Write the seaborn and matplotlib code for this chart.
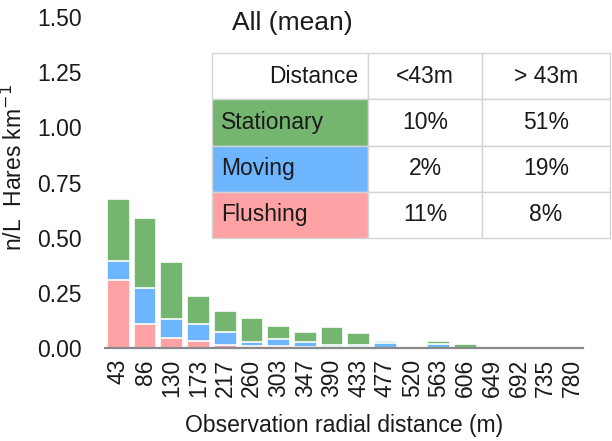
import matplotlib
matplotlib.use("Agg")
import matplotlib.pyplot as plt
import numpy as np
import pandas as pd
import seaborn as sns

# values (n/L, hares per km)
distances = ['43', '86', '130', '173', '217', '260', '303', '347', '390',
             '433', '477', '520', '563', '606', '649', '692', '735', '780']
flushing = [0.31, 0.11, 0.045, 0.03, 0.012, 0.008, 0.008, 0.004, 0.003,
            0.003, 0, 0, 0, 0, 0, 0, 0, 0]
moving = [0.085, 0.16, 0.085, 0.08, 0.062, 0.02, 0.032, 0.022, 0.012,
          0.012, 0.021, 0, 0.017, 0, 0, 0, 0, 0]
stationary = [0.28, 0.32, 0.26, 0.125, 0.094, 0.11, 0.06, 0.045, 0.082,
              0.055, 0.012, 0, 0.016, 0.018, 0, 0, 0, 0]

table_cols = ['Distance', '<43m', '> 43m']
table_rows = ['Stationary', 'Moving', 'Flushing']
pct_near = ['10%', '2%', '11%']
pct_far = ['51%', '19%', '8%']

GREEN = '#74b66f'
BLUE = '#6db5fe'
PINK = '#ffa2a6'
TXT = '#1a1a1a'

df = pd.DataFrame({'distance': distances, 'flushing': flushing,
                   'moving': moving, 'stationary': stationary})
df['fm'] = df['flushing'] + df['moving']
df['total'] = df['fm'] + df['stationary']

sns.set_theme(style='white')
plt.rcParams['font.family'] = ['Liberation Sans', 'DejaVu Sans']

fig = plt.figure(figsize=(6.12, 4.41), dpi=100)
ax = fig.add_axes([105 / 612, 1 - 348 / 441, 478 / 612, 331 / 441])

bar_kw = dict(width=0.85, edgecolor='white', linewidth=1.2, ax=ax)
sns.barplot(data=df, x='distance', y='total', color=GREEN, saturation=1, **bar_kw)
sns.barplot(data=df, x='distance', y='fm', color=BLUE, saturation=1, **bar_kw)
sns.barplot(data=df, x='distance', y='flushing', color=PINK, saturation=1, **bar_kw)

ax.set_ylim(0, 1.5)
ax.set_xlim(-0.5, 17.4)
ax.set_yticks(np.arange(0, 1.51, 0.25))
ax.set_yticklabels([f'{t:.2f}' for t in np.arange(0, 1.51, 0.25)])
ax.tick_params(axis='y', length=0, pad=17, labelsize=16.5, labelcolor=TXT)
ax.tick_params(axis='x', length=0, pad=8, labelsize=16.5, labelcolor=TXT,
               labelrotation=90)
for s in ['top', 'right', 'left']:
    ax.spines[s].set_visible(False)
ax.spines['bottom'].set_color('#8a8a8a')
ax.spines['bottom'].set_linewidth(1.6)

ax.set_xlabel('Observation radial distance (m)', fontsize=16.5, color=TXT,
              labelpad=12)
ax.set_ylabel('n/L  Hares km$^{-1}$', fontsize=16.5, color=TXT)
ax.yaxis.set_label_coords(-0.163, 0.545)

fig.text(232 / 612, 1 - 23 / 441, 'All (mean)', fontsize=19, color=TXT,
         ha='left', va='center')

# table of percentages
tax = fig.add_axes([212 / 612, 1 - 238 / 441, 398 / 612, 185 / 441])
tax.axis('off')
cells = [table_cols] + [[r, a, b] for r, a, b in zip(table_rows, pct_near, pct_far)]
colours = [['white'] * 3, [GREEN, 'white', 'white'], [BLUE, 'white', 'white'],
           [PINK, 'white', 'white']]
tbl = tax.table(cellText=cells, cellColours=colours, cellLoc='center',
                colWidths=[156 / 398, 114 / 398, 128 / 398], bbox=[0, 0, 1, 1])
tbl.auto_set_font_size(False)
tbl.set_fontsize(16.5)
for (r, c), cell in tbl.get_celld().items():
    cell.set_edgecolor('#d4d4d4')
    cell.set_linewidth(1.0)
    cell.get_text().set_color(TXT)
    if c == 0:
        cell.PAD = 0.06
        cell.get_text().set_horizontalalignment('right' if r == 0 else 'left')

fig.savefig('out.png', dpi=100)
